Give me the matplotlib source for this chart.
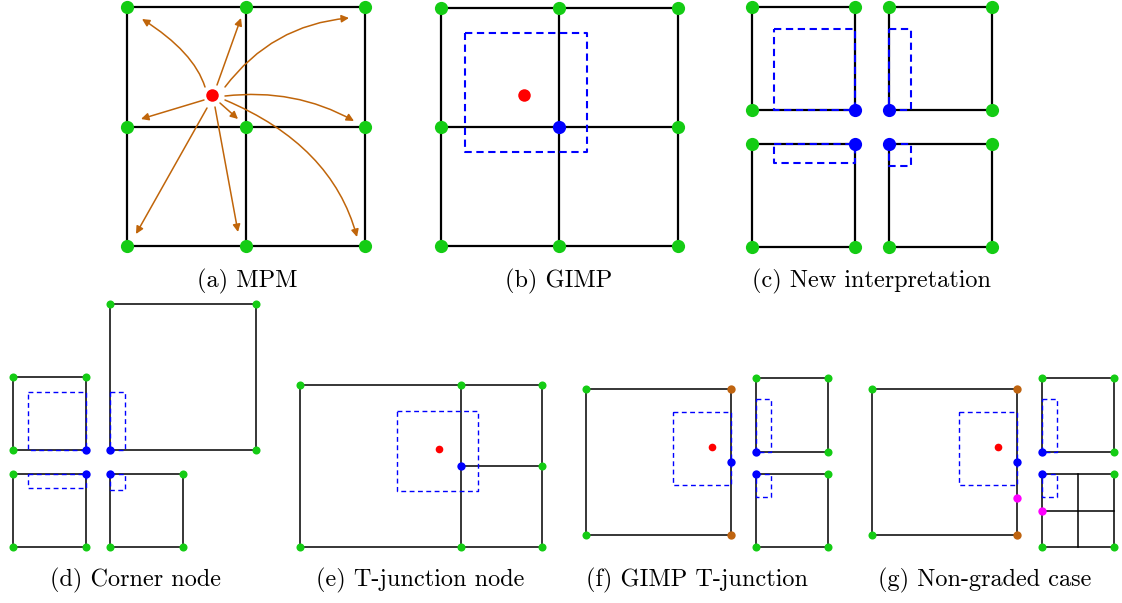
import matplotlib.pyplot as plt
from matplotlib.patches import FancyArrowPatch
from matplotlib.path import Path

plt.rcParams["font.family"] = "cmr10"

# colours used in the sketch
GREEN = "#14cc14"
BLUE = "#0000ff"
RED = "#ff0000"
ORANGE = "#bf6410"
MAGENTA = "#ff00ff"
ARROW = "#c0650a"

# everything is given in pixel coordinates of the 1122x603 figure

# --- top row: grid lines (x0, y0, x1, y1)
top_lines = [
    # (a) MPM 2x2 grid
    (127, 7, 365, 7), (127, 127, 365, 127), (127, 246, 365, 246),
    (127, 7, 127, 246), (246, 7, 246, 246), (365, 7, 365, 246),
    # (b) GIMP 2x2 grid
    (441, 8, 678, 8), (441, 127, 678, 127), (441, 246, 678, 246),
    (441, 8, 441, 246), (559, 8, 559, 246), (678, 8, 678, 246),
]
# (c) four separated squares, (d)-(g) squares: (x0, y0, x1, y1)
top_squares = [
    (752, 7, 855, 110), (889, 7, 992, 110),
    (752, 144, 855, 247), (889, 144, 992, 247),
]
bottom_squares = [
    # (d)
    (13, 377, 86, 450), (110, 304, 256, 450),
    (13, 474, 86, 547), (110, 474, 183, 547),
    # (e)
    (300, 385, 542, 547),
    # (f)
    (586, 389, 731, 535), (756, 378, 828, 452), (756, 474, 828, 547),
    # (g)
    (872, 389, 1017, 535), (1042, 378, 1114, 452), (1042, 474, 1114, 547),
]
bottom_lines = [
    (461, 385, 461, 547), (461, 466, 542, 466),      # (e) T-junction
    (1078, 474, 1078, 547), (1042, 511, 1114, 511),  # (g) refined cell
]

# dashed GIMP particle domains
top_dashed = [
    (465, 33, 587, 152),
    (774, 29, 855, 110), (889, 29, 911, 110),
    (774, 144, 855, 163), (889, 144, 911, 166),
]
bottom_dashed = [
    (28, 392, 86, 450), (110, 392, 125, 450),
    (28, 474, 86, 488), (110, 474, 125, 490),
    (397, 411, 478, 491),
    (673, 412, 731, 485), (756, 399, 771, 452), (756, 474, 771, 497),
    (959, 412, 1017, 485), (1042, 399, 1057, 452), (1042, 474, 1057, 497),
]

# nodes
top_green = [
    (127, 7), (246, 7), (365, 7), (127, 127), (365, 127),
    (127, 246), (246, 246), (365, 246), (246, 127),
    (441, 8), (559, 8), (678, 8), (441, 127), (678, 127),
    (441, 246), (559, 246), (678, 246),
    (752, 7), (855, 7), (752, 110), (889, 7), (992, 7), (992, 110),
    (752, 144), (752, 247), (855, 247), (992, 144), (889, 247), (992, 247),
]
top_blue = [(559, 127), (855, 110), (889, 110), (855, 144), (889, 144)]
top_red = [(212, 95), (524, 95)]

bottom_green = [
    (13, 377), (86, 377), (13, 450), (110, 304), (256, 304), (256, 450),
    (13, 474), (13, 547), (86, 547), (183, 474), (110, 547), (183, 547),
    (300, 385), (461, 385), (542, 385), (300, 547), (461, 547), (542, 547),
    (542, 466),
    (586, 389), (586, 535), (756, 378), (828, 378), (828, 452),
    (828, 474), (756, 547), (828, 547),
    (872, 389), (872, 535), (1042, 378), (1114, 378), (1114, 452),
    (1114, 474), (1042, 547), (1114, 547),
]
bottom_blue = [
    (86, 450), (110, 450), (86, 474), (110, 474), (461, 466),
    (731, 462), (756, 452), (756, 474),
    (1017, 462), (1042, 452), (1042, 474),
]
bottom_red = [(439, 449), (712, 447), (998, 447)]
bottom_orange = [(731, 389), (731, 535), (1017, 389), (1017, 535)]
bottom_magenta = [(1017, 498), (1042, 511)]

# MPM arrows: (start, control or None, end)
arrows = [
    ((205, 87), (194, 52), (142, 19)),
    ((217, 85), None, (241, 18)),
    ((225, 87), (272, 25), (349, 18)),
    ((225, 96), (295, 88), (354, 121)),
    ((204, 100), None, (141, 119)),
    ((220, 103), None, (238, 119)),
    ((207, 108), None, (136, 234)),
    ((215, 107), None, (238, 232)),
    ((225, 100), (332, 145), (357, 237)),
]

labels = [
    ("(a) MPM", 247, 281), ("(b) GIMP", 559, 281),
    ("(c) New interpretation", 872, 281),
    ("(d) Corner node", 136, 580), ("(e) T-junction node", 420, 580),
    ("(f) GIMP T-junction", 697, 580), ("(g) Non-graded case", 985, 580),
]

fig = plt.figure(figsize=(11.22, 6.03), dpi=100)
ax = fig.add_axes([0, 0, 1, 1])
ax.set_xlim(0, 1122)
ax.set_ylim(603, 0)
ax.axis("off")


def rect_xy(r):
    x0, y0, x1, y1 = r
    return [x0, x1, x1, x0, x0], [y0, y0, y1, y1, y0]


for x0, y0, x1, y1 in top_lines:
    ax.plot([x0, x1], [y0, y1], color="black", lw=1.6, zorder=1)
for r in top_squares:
    ax.plot(*rect_xy(r), color="black", lw=1.6, zorder=1)
for r in bottom_squares:
    ax.plot(*rect_xy(r), color="black", lw=1.1, zorder=1)
for x0, y0, x1, y1 in bottom_lines:
    ax.plot([x0, x1], [y0, y1], color="black", lw=1.1, zorder=1)

for r in top_dashed:
    ax.plot(*rect_xy(r), color=BLUE, lw=1.5, ls=(0, (3.5, 2.2)), zorder=2)
for r in bottom_dashed:
    ax.plot(*rect_xy(r), color=BLUE, lw=1.0, ls=(0, (3.5, 2.5)), zorder=2)

for start, ctrl, end in arrows:
    if ctrl is None:
        arr = FancyArrowPatch(start, end, arrowstyle="-|>", mutation_scale=11,
                              color=ARROW, lw=1.1, shrinkA=0, shrinkB=0)
    else:
        path = Path([start, ctrl, end], [Path.MOVETO, Path.CURVE3, Path.CURVE3])
        arr = FancyArrowPatch(path=path, arrowstyle="-|>", mutation_scale=11,
                              color=ARROW, lw=1.1)
    ax.add_patch(arr)


def nodes(pts, color, size):
    ax.plot([p[0] for p in pts], [p[1] for p in pts], "o", color=color,
            markersize=size, markeredgewidth=0, zorder=4)


nodes(top_green, GREEN, 9.5)
nodes(top_blue, BLUE, 9.5)
nodes(top_red, RED, 9.0)
nodes(bottom_green, GREEN, 5.8)
nodes(bottom_blue, BLUE, 6.0)
nodes(bottom_red, RED, 5.5)
nodes(bottom_orange, ORANGE, 6.0)
nodes(bottom_magenta, MAGENTA, 6.0)

for text, x, y in labels:
    ax.text(x, y, text, ha="center", va="center", fontsize=17.5)

fig.savefig("out.png", dpi=100)
